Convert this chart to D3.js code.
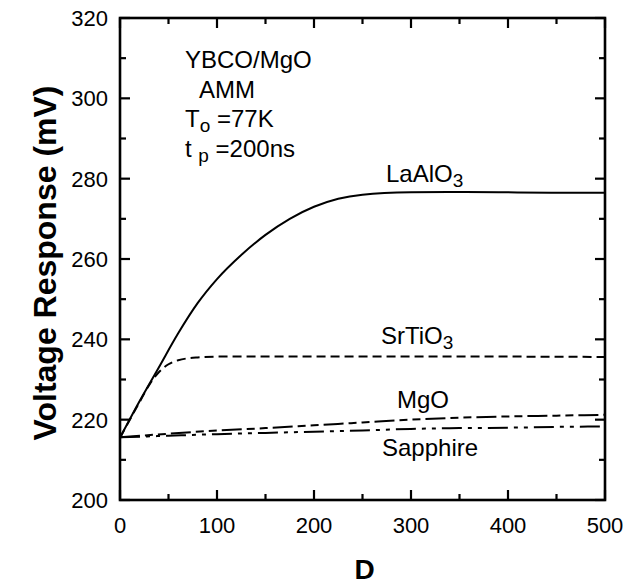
<!DOCTYPE html>
<html>
<head>
<meta charset="utf-8">
<script src="https://cdn.jsdelivr.net/npm/d3@7"></script>
<style>
  body { margin: 0; background: #fff; }
  text { font-family: 'Liberation Sans', Arial, sans-serif; fill: #000; }
</style>
</head>
<body>
<svg width="626" height="587"></svg>
<script>
'use strict'

// values
const dLaAlO3 = [0, 20, 40, 60, 80, 100, 125, 150, 175, 200, 225, 250, 300, 350, 400, 450, 500]
const vLaAlO3 = [215.5, 224.5, 233, 241.5, 249, 255, 261, 266, 270, 273, 275, 276, 276.6, 276.7, 276.6, 276.5, 276.5]

const dSrTiO3 = [0, 20, 30, 40, 50, 60, 80, 100, 200, 300, 400, 500]
const vSrTiO3 = [215.5, 224.3, 228.6, 231.8, 233.8, 234.8, 235.5, 235.7, 235.7, 235.7, 235.7, 235.6]

const dMgO = [0, 50, 100, 150, 200, 250, 300, 350, 400, 450, 500]
const vMgO = [215.6, 216.5, 217.3, 217.9, 218.6, 219.3, 220, 220.5, 220.8, 221, 221.2]

const dSapphire = [0, 50, 100, 150, 200, 250, 300, 350, 400, 450, 500]
const vSapphire = [215.6, 216, 216.4, 216.7, 217, 217.3, 217.7, 217.9, 218, 218.2, 218.3]

const xTicks = [0, 100, 200, 300, 400, 500]
const yTicks = [200, 220, 240, 260, 280, 300, 320]

const margin = { top: 18, right: 21, bottom: 87, left: 120 }
const width = 626 - margin.left - margin.right,
  height = 587 - margin.top - margin.bottom

const svg = d3.select('svg')
const g = svg.append('g').attr('transform', 'translate(' + margin.left + ',' + margin.top + ')')

const x = d3.scaleLinear().domain([0, 500]).range([0, width])
const y = d3.scaleLinear().domain([200, 320]).range([height, 0])

const minorX = d3.range(0, 501, 50)
const minorY = d3.range(200, 321, 10)

// ticks, pointing inward on all four sides
function tickLen(v, step) { return v % step === 0 ? 10 : 6 }

g.selectAll('.tb').data(minorX).enter().append('line')
  .attr('x1', d => x(d)).attr('x2', d => x(d))
  .attr('y1', height).attr('y2', d => height - tickLen(d, 100))
  .attr('stroke', '#000').attr('stroke-width', 2.2)
g.selectAll('.tt').data(minorX).enter().append('line')
  .attr('x1', d => x(d)).attr('x2', d => x(d))
  .attr('y1', 0).attr('y2', d => tickLen(d, 100))
  .attr('stroke', '#000').attr('stroke-width', 2.2)
g.selectAll('.tl').data(minorY).enter().append('line')
  .attr('y1', d => y(d)).attr('y2', d => y(d))
  .attr('x1', 0).attr('x2', d => tickLen(d, 20))
  .attr('stroke', '#000').attr('stroke-width', 2.2)
g.selectAll('.tr').data(minorY).enter().append('line')
  .attr('y1', d => y(d)).attr('y2', d => y(d))
  .attr('x1', width).attr('x2', d => width - tickLen(d, 20))
  .attr('stroke', '#000').attr('stroke-width', 2.2)

g.append('rect')
  .attr('width', width).attr('height', height)
  .attr('fill', 'none').attr('stroke', '#000').attr('stroke-width', 2.6)

g.selectAll('.xl').data(xTicks).enter().append('text')
  .attr('x', d => x(d)).attr('y', height + 33)
  .attr('text-anchor', 'middle').style('font-size', '22px')
  .text(d => d)
g.selectAll('.yl').data(yTicks).enter().append('text')
  .attr('x', -12).attr('y', d => y(d) + 8)
  .attr('text-anchor', 'end').style('font-size', '22px')
  .text(d => d)

// axis titles
svg.append('text')
  .attr('transform', 'translate(56,263) rotate(-90)')
  .attr('text-anchor', 'middle')
  .style('font-size', '32px').style('font-weight', 'bold')
  .text('Voltage Response (mV)')
svg.append('text')
  .attr('x', margin.left + width / 2 + 2).attr('y', 579)
  .attr('text-anchor', 'middle')
  .style('font-size', '28px').style('font-weight', 'bold')
  .text('D')

// curves
const series = [
  { d: dLaAlO3, v: vLaAlO3, dash: null },
  { d: dSrTiO3, v: vSrTiO3, dash: '9,5' },
  { d: dMgO, v: vMgO, dash: '20,5,8,5,8,5' },
  { d: dSapphire, v: vSapphire, dash: '20,6,4,6,4,6' }
]
const line = d3.line().x(p => x(p[0])).y(p => y(p[1])).curve(d3.curveMonotoneX)
series.forEach(s => {
  g.append('path')
    .datum(s.d.map((d, i) => [d, s.v[i]]))
    .attr('d', line)
    .attr('fill', 'none').attr('stroke', '#000').attr('stroke-width', 2)
    .attr('stroke-dasharray', s.dash)
})

// annotations
function label(px, py, main, sub, rest, subShift) {
  const t = svg.append('text').attr('x', px).attr('y', py).style('font-size', '24px')
  t.append('tspan').text(main)
  if (sub) t.append('tspan').attr('dy', subShift).style('font-size', '19px').text(sub)
  if (rest) t.append('tspan').attr('dy', -subShift).text(rest)
}
label(185, 68, 'YBCO/MgO')
label(199, 98, 'AMM')
label(185, 127, 'T', 'o', ' =77K', 5)
label(185, 157, 't ', 'p', ' =200ns', 5)
label(386, 182, 'LaAlO', '3', null, 5)
label(381, 344, 'SrTiO', '3', null, 5)
label(397, 408, 'MgO')
label(382, 456, 'Sapphire')
</script>
</body>
</html>
